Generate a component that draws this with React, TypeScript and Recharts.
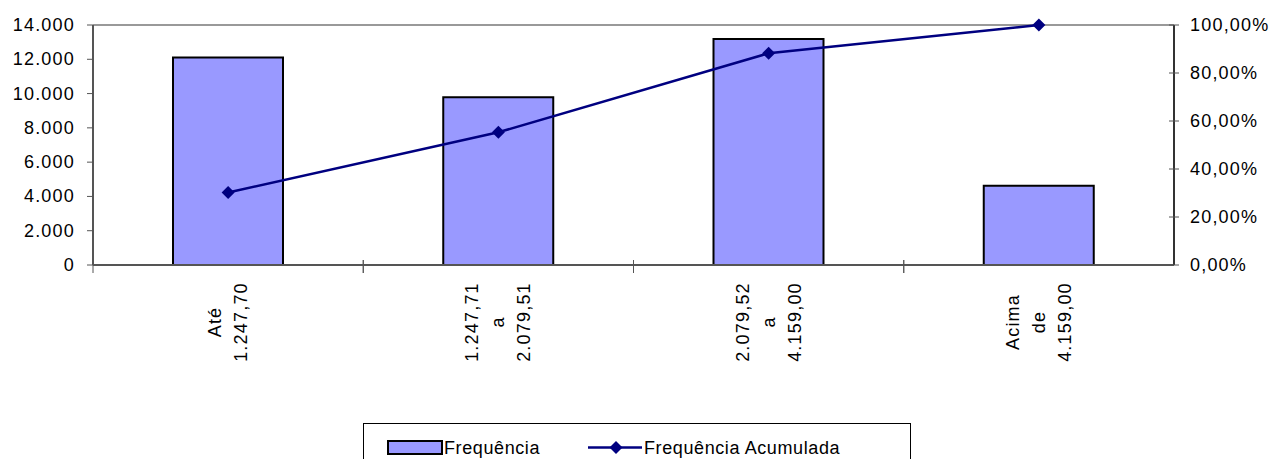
import React from "react";
import { ComposedChart, Bar, Line, XAxis, YAxis, ReferenceLine } from "recharts";

const categories = ["Até\n1.247,70", "1.247,71\na\n2.079,51", "2.079,52\na\n4.159,00", "Acima\nde\n4.159,00"];
const frequencia = [12110, 9780, 13180, 4630];
const acumulada = [0.302, 0.553, 0.882, 1.0];
const leftTicks = [0, 2000, 4000, 6000, 8000, 10000, 12000, 14000];
const rightTicks = [0, 0.2, 0.4, 0.6, 0.8, 1.0];
const seriesNames = ["Frequência", "Frequência Acumulada"];

const data = categories.map((c, i) => ({ cat: c, freq: frequencia[i], acum: acumulada[i] }));

const FONT = "'Liberation Sans', Arial, sans-serif";
const LINE_COLOR = "#000080";
const BAR_COLOR = "#9999FF";
const AXIS_COLOR = "#555";

const fmtThousands = (v: number) => (v === 0 ? "0" : v.toLocaleString("de-DE"));
const fmtPct = (v: number) => (v * 100).toFixed(2).replace(".", ",") + "%";

const XTick = (props: any) => {
  const { x, y, payload } = props;
  const lines = String(payload.value).split("\n");
  const off = payload.offset || 0;
  const n = lines.length;
  return (
    <g>
      <line x1={x - off} x2={x - off} y1={y - 5} y2={y + 8} stroke={AXIS_COLOR} strokeWidth={1} />
      {payload.index === categories.length - 1 ? null : (
        <line x1={x + off} x2={x + off} y1={y - 5} y2={y + 8} stroke={AXIS_COLOR} strokeWidth={1} />
      )}
      {lines.map((l, i) => {
        const cx = x + (i - (n - 1) / 2) * 26;
        const cy = y + 57;
        return (
          <text
            key={i}
            x={cx}
            y={cy}
            transform={`rotate(-90, ${cx}, ${cy})`}
            textAnchor="middle"
            dominantBaseline="central"
            fontFamily={FONT}
            fontSize={18}
            letterSpacing={1.2}
            fill="#000"
          >
            {l}
          </text>
        );
      })}
    </g>
  );
};

const LeftTick = (props: any) => {
  const { x, y, payload } = props;
  return (
    <g>
      <line x1={x - 6} x2={x} y1={y} y2={y} stroke={AXIS_COLOR} strokeWidth={1} />
      <text x={x - 18} y={y} textAnchor="end" dominantBaseline="central" fontFamily={FONT} fontSize={18} letterSpacing={1.2} fill="#000">
        {fmtThousands(payload.value)}
      </text>
    </g>
  );
};

const RightTick = (props: any) => {
  const { x, y, payload } = props;
  return (
    <g>
      <line x1={x - 5} x2={x + 5} y1={y} y2={y} stroke={AXIS_COLOR} strokeWidth={1} />
      <text x={x + 16} y={y} textAnchor="start" dominantBaseline="central" fontFamily={FONT} fontSize={18} letterSpacing={1.2} fill="#000">
        {fmtPct(payload.value)}
      </text>
    </g>
  );
};

const Diamond = (props: any) => {
  const { cx, cy } = props;
  if (cx == null || cy == null) return null;
  const r = 6.5;
  return <polygon points={`${cx},${cy - r} ${cx + r},${cy} ${cx},${cy + r} ${cx - r},${cy}`} fill={LINE_COLOR} />;
};

export default function App() {
  return (
    <div style={{ position: "absolute", left: 0, top: 0, width: 1278, height: 459, background: "#fff", overflow: "hidden" }}>
      <ComposedChart width={1278} height={459} data={data} margin={{ top: 25, right: 0, bottom: 0, left: 0 }}>
        <XAxis
          dataKey="cat"
          xAxisId="x"
          height={194}
          tickSize={0}
          tickMargin={0}
          tick={<XTick />}
          axisLine={{ stroke: AXIS_COLOR, strokeWidth: 2 }}
          tickLine={false}
          interval={0}
        />
        <YAxis
          yAxisId="left"
          orientation="left"
          width={93}
          domain={[0, 14000]}
          ticks={leftTicks}
          tickSize={0}
          tickMargin={0}
          tick={<LeftTick />}
          tickLine={false}
          axisLine={{ stroke: AXIS_COLOR, strokeWidth: 2 }}
          interval={0}
        />
        <YAxis
          yAxisId="right"
          orientation="right"
          width={104}
          domain={[0, 1]}
          ticks={rightTicks}
          tickSize={0}
          tickMargin={0}
          tick={<RightTick />}
          tickLine={false}
          axisLine={{ stroke: "#333", strokeWidth: 2 }}
          interval={0}
        />
        <ReferenceLine yAxisId="left" xAxisId="x" y={14000} stroke="#999" strokeWidth={2} />
        <Bar
          xAxisId="x"
          yAxisId="left"
          dataKey="freq"
          name={seriesNames[0]}
          fill={BAR_COLOR}
          stroke="#000"
          strokeWidth={2}
          barSize={110}
          isAnimationActive={false}
        />
        <Line
          xAxisId="x"
          yAxisId="right"
          dataKey="acum"
          name={seriesNames[1]}
          stroke={LINE_COLOR}
          strokeWidth={2.5}
          type="linear"
          dot={<Diamond />}
          activeDot={false}
          isAnimationActive={false}
        />
      </ComposedChart>
      <div
        style={{
          position: "absolute",
          left: 363,
          top: 423,
          width: 548,
          height: 60,
          border: "1px solid #000",
          boxSizing: "border-box",
          fontFamily: FONT,
          fontSize: 18,
          letterSpacing: 0.6,
        }}
      >
        <svg width={548} height={40} style={{ position: "absolute", left: 0, top: 0 }}>
          <rect x={24} y={17} width={54} height={13} fill={BAR_COLOR} stroke="#000" strokeWidth={2} />
          <text x={80} y={24} dominantBaseline="central" fontFamily={FONT} fontSize={18} letterSpacing={0.6} fill="#000">
            {seriesNames[0]}
          </text>
          <line x1={224} x2={278} y1={23.5} y2={23.5} stroke={LINE_COLOR} strokeWidth={2.5} />
          <polygon points="252,17 258.5,23.5 252,30 245.5,23.5" fill={LINE_COLOR} />
          <text x={280} y={24} dominantBaseline="central" fontFamily={FONT} fontSize={18} letterSpacing={0.6} fill="#000">
            {seriesNames[1]}
          </text>
        </svg>
      </div>
    </div>
  );
}
